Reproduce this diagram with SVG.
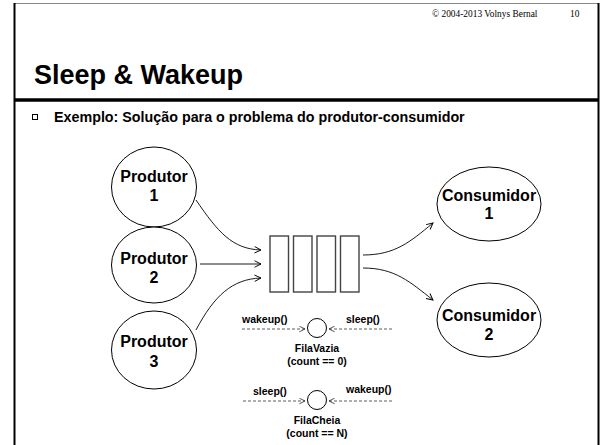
<svg xmlns="http://www.w3.org/2000/svg" width="602" height="445" viewBox="0 0 602 445">
<style>
.frame{stroke:#000;fill:none}
.node{fill:#fff;stroke:#000;stroke-width:1}
.lbl{font-family:"Liberation Sans",Arial,sans-serif;font-weight:bold;font-size:16px;fill:#000;text-anchor:middle}
.sm{font-family:"Liberation Sans",Arial,sans-serif;font-weight:bold;font-size:10.5px;fill:#000}
.q{fill:#fff;stroke:#444;stroke-width:1.4}
.conn{fill:none;stroke:#000;stroke-width:0.9}
.dash{fill:none;stroke:#333;stroke-width:0.8;stroke-dasharray:3 2}
</style>
<defs>
<marker id="arr" viewBox="0 0 10 10" refX="9" refY="5" markerWidth="8" markerHeight="8" markerUnits="userSpaceOnUse" orient="auto">
<path d="M1,1 L9,5 L1,9" fill="none" stroke="#000" stroke-width="1.2"/>
</marker>
<marker id="arrs" viewBox="0 0 10 10" refX="9" refY="5" markerWidth="7" markerHeight="7" markerUnits="userSpaceOnUse" orient="auto">
<path d="M1,1 L9,5 L1,9" fill="none" stroke="#333" stroke-width="1.2"/>
</marker>
</defs>
<rect width="602" height="445" fill="#fff"/>
<g id="frame">
<line x1="14" y1="3.5" x2="599" y2="3.5" stroke="#888" stroke-width="1"/>
<line x1="14.5" y1="3" x2="14.5" y2="445" stroke="#000" stroke-width="2"/>
<line x1="598.5" y1="3" x2="598.5" y2="445" stroke="#000" stroke-width="2"/>
<line x1="14" y1="100" x2="599" y2="100" stroke="#000" stroke-width="3.5"/>
</g>
<text x="432" y="17" font-family="Liberation Serif,'Times New Roman',serif" font-size="9.4px" fill="#000">© 2004-2013 Volnys Bernal</text>
<text x="570" y="17" font-family="Liberation Serif,'Times New Roman',serif" font-size="9.4px" fill="#000">10</text>
<text x="34" y="84" font-family="Liberation Sans,Arial,sans-serif" font-weight="bold" font-size="27px" fill="#000">Sleep &amp; Wakeup</text>
<rect x="32.5" y="114.5" width="5" height="5" fill="none" stroke="#000" stroke-width="1"/>
<text x="54" y="122" font-family="Liberation Sans,Arial,sans-serif" font-weight="bold" font-size="14.3px" fill="#000">Exemplo: Solução para o problema do produtor-consumidor</text>

<g id="connectors">
<path class="conn" d="M196,200 C218,232 232,249 261,250" marker-end="url(#arr)"/>
<path class="conn" d="M200,264 L261,264" marker-end="url(#arr)"/>
<path class="conn" d="M196,330 C214,296 232,279 261,278" marker-end="url(#arr)"/>
<path class="conn" d="M363,255 C395,255 410,242 433,223" marker-end="url(#arr)"/>
<path class="conn" d="M363,268 C395,268 410,282 433,300" marker-end="url(#arr)"/>
<path class="dash" d="M242,329 L305,329" marker-end="url(#arrs)"/>
<path class="dash" d="M392,329 L329,329" marker-end="url(#arrs)"/>
<path class="dash" d="M243,401 L305,401" marker-end="url(#arrs)"/>
<path class="dash" d="M392,401 L329,401" marker-end="url(#arrs)"/>
</g>

<g id="produtor1"><ellipse class="node" cx="154" cy="187" rx="42.5" ry="40"/><text class="lbl" x="154" y="182">Produtor</text><text class="lbl" x="154" y="201">1</text></g>
<g id="produtor2"><ellipse class="node" cx="154" cy="265" rx="42.5" ry="38"/><text class="lbl" x="154" y="264">Produtor</text><text class="lbl" x="154" y="283">2</text></g>
<g id="produtor3"><ellipse class="node" cx="154" cy="350" rx="42.5" ry="39"/><text class="lbl" x="154" y="347">Produtor</text><text class="lbl" x="154" y="367">3</text></g>

<g id="fila">
<rect class="q" x="270" y="236" width="18.5" height="56"/>
<rect class="q" x="293.5" y="236" width="18.5" height="56"/>
<rect class="q" x="317" y="236" width="18.5" height="56"/>
<rect class="q" x="340.5" y="236" width="18.5" height="56"/>
</g>

<g id="consumidor1"><ellipse class="node" cx="489" cy="204" rx="52" ry="37"/><text class="lbl" x="489" y="201">Consumidor</text><text class="lbl" x="489" y="219">1</text></g>
<g id="consumidor2"><ellipse class="node" cx="489" cy="320" rx="52" ry="37"/><text class="lbl" x="489" y="321">Consumidor</text><text class="lbl" x="489" y="340">2</text></g>

<g id="filavazia">
<circle class="node" cx="317" cy="328" r="9.5"/>
<text class="sm" x="242" y="323">wakeup()</text>
<text class="sm" x="346" y="323">sleep()</text>
<text class="sm" x="317" y="352" text-anchor="middle">FilaVazia</text>
<text class="sm" x="317" y="365" text-anchor="middle">(count == 0)</text>
</g>
<g id="filacheia">
<circle class="node" cx="317" cy="400" r="9.5"/>
<text class="sm" x="253" y="395">sleep()</text>
<text class="sm" x="346" y="393">wakeup()</text>
<text class="sm" x="317" y="424" text-anchor="middle">FilaCheia</text>
<text class="sm" x="317" y="437" text-anchor="middle">(count == N)</text>
</g>
</svg>
